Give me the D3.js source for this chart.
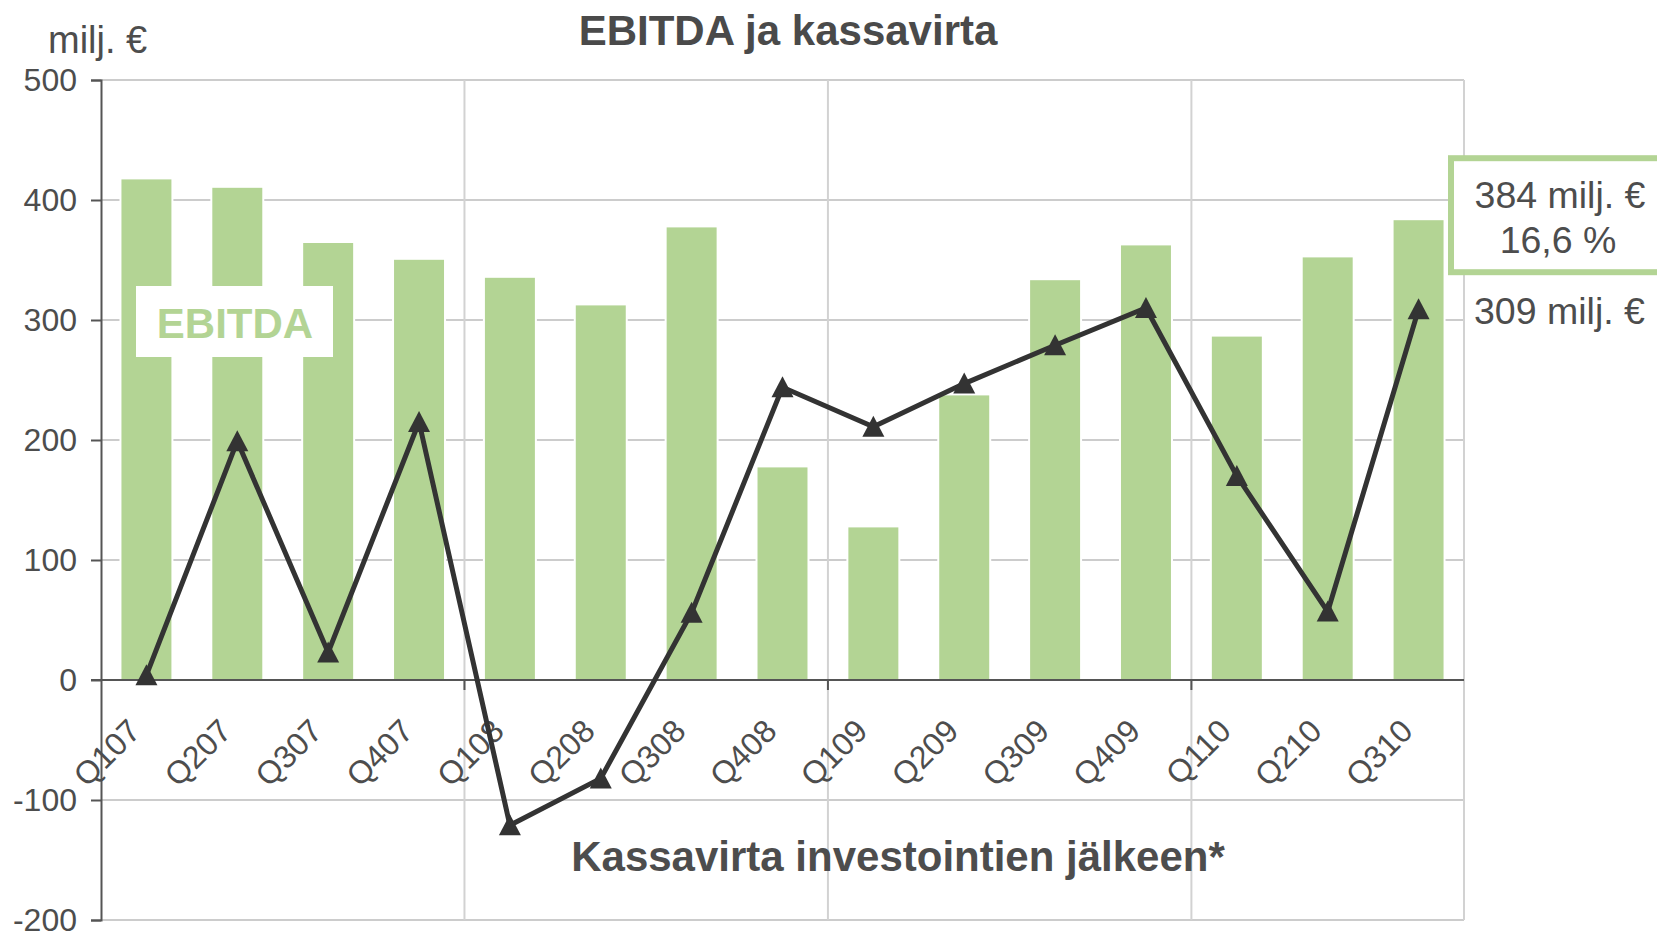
<!DOCTYPE html>
<html>
<head>
<meta charset="utf-8">
<script src="https://cdn.jsdelivr.net/npm/d3@7"></script>
<style>
  body { margin: 0; background: #fff; }
  text { font-family: "Liberation Sans", Arial, sans-serif; }
</style>
</head>
<body>
<div class="canvas"></div>
<script>
// Data
const quarters = ['Q107', 'Q207', 'Q307', 'Q407', 'Q108', 'Q208', 'Q308', 'Q408',
                  'Q109', 'Q209', 'Q309', 'Q409', 'Q110', 'Q210', 'Q310'];
const ebitda = [418, 411, 365, 351, 336, 313, 378, 178, 128, 238, 334, 363, 287, 353, 384];
const cashFlow = [4, 199, 23, 215, -121, -82, 56, 244, 211, 247, 279, 310, 170, 57, 309];
const yTicks = [-200, -100, 0, 100, 200, 300, 400, 500];
const yearStarts = ['Q108', 'Q109', 'Q110'];
const lastMargin = '16,6 %';

// Variables
const width = 1657, height = 933;
const margin = { top: 80, right: 193, bottom: 13, left: 101 };
const textColor = '#4d4d4d';
const barColor = '#b3d494';
const lineColor = '#333333';

const svg = d3.select('.canvas')
    .append('svg')
    .attr('width', width)
    .attr('height', height);

const x = d3.scaleBand()
    .domain(quarters)
    .range([margin.left, width - margin.right])
    .paddingInner(0.428)
    .paddingOuter(0.214);

const y = d3.scaleLinear()
    .domain([-200, 500])
    .range([height - margin.bottom, margin.top]);

const cx = d => x(d) + x.bandwidth() / 2;
const gap = (x.step() - x.bandwidth()) / 2;
const right = width - margin.right;

// Horizontal grid
svg.append('g')
    .selectAll('line')
    .data(yTicks)
    .join('line')
    .attr('x1', margin.left)
    .attr('x2', right)
    .attr('y1', d => y(d))
    .attr('y2', d => y(d))
    .attr('stroke', '#cccccc')
    .attr('stroke-width', 2);

// Vertical grid at year boundaries + right border
svg.append('g')
    .selectAll('line')
    .data(yearStarts.map(q => x(q) - gap).concat([right]))
    .join('line')
    .attr('x1', d => d)
    .attr('x2', d => d)
    .attr('y1', y(500))
    .attr('y2', y(-200))
    .attr('stroke', '#d2d2d2')
    .attr('stroke-width', 2);

// Bars
svg.append('g')
    .selectAll('rect')
    .data(quarters)
    .join('rect')
    .attr('x', d => x(d))
    .attr('width', x.bandwidth())
    .attr('y', (d, i) => y(ebitda[i]))
    .attr('height', (d, i) => y(0) - y(ebitda[i]))
    .attr('fill', barColor)
    .attr('stroke', '#fff')
    .attr('stroke-width', 2);

// Zero line and x ticks
svg.append('line')
    .attr('x1', margin.left - 10)
    .attr('x2', right)
    .attr('y1', y(0))
    .attr('y2', y(0))
    .attr('stroke', '#555')
    .attr('stroke-width', 2);

svg.append('g')
    .selectAll('line')
    .data(yearStarts.map(q => x(q) - gap))
    .join('line')
    .attr('x1', d => d)
    .attr('x2', d => d)
    .attr('y1', y(0))
    .attr('y2', y(0) + 10)
    .attr('stroke', '#555')
    .attr('stroke-width', 2);

// Y axis
const yAxis = svg.append('g')
    .attr('transform', `translate(${margin.left},0)`)
    .call(d3.axisLeft(y).tickValues(yTicks).tickSize(10).tickPadding(14)
        .tickFormat(d => String(d)));
yAxis.select('.domain').attr('stroke', '#555').attr('stroke-width', 2);
yAxis.selectAll('.tick line').attr('stroke', '#555').attr('stroke-width', 2);
yAxis.selectAll('.tick text')
    .attr('fill', textColor)
    .style('font-size', '32px');

// X labels
svg.append('g')
    .selectAll('text')
    .data(quarters)
    .join('text')
    .attr('transform', d => `translate(${cx(d) - 4},${y(0) + 53}) rotate(-45)`)
    .attr('text-anchor', 'end')
    .attr('fill', textColor)
    .style('font-size', '32px')
    .text(d => d);

// Cash flow line
const line = d3.line()
    .x(d => cx(d.q))
    .y(d => y(d.v));
const cashData = quarters.map((q, i) => ({ q: q, v: cashFlow[i] }));

svg.append('path')
    .datum(cashData)
    .attr('d', line)
    .attr('fill', 'none')
    .attr('stroke', lineColor)
    .attr('stroke-width', 5)
    .attr('stroke-linejoin', 'miter');

svg.append('g')
    .selectAll('path')
    .data(cashData)
    .join('path')
    .attr('transform', d => `translate(${cx(d.q)},${y(d.v)})`)
    .attr('d', 'M0,-11L11,10L-11,10Z')
    .attr('fill', lineColor);

// Labels
svg.append('text')
    .attr('x', 788)
    .attr('y', 45)
    .attr('text-anchor', 'middle')
    .attr('fill', '#4a4a4a')
    .style('font-size', '42px')
    .style('font-weight', 'bold')
    .text('EBITDA ja kassavirta');

svg.append('text')
    .attr('x', 48)
    .attr('y', 53)
    .attr('fill', textColor)
    .style('font-size', '38px')
    .text('milj. €');

svg.append('rect')
    .attr('x', 136)
    .attr('y', 286)
    .attr('width', 197)
    .attr('height', 71)
    .attr('fill', '#fff');
svg.append('text')
    .attr('x', 235)
    .attr('y', 338)
    .attr('text-anchor', 'middle')
    .attr('fill', barColor)
    .style('font-size', '42px')
    .style('font-weight', 'bold')
    .text('EBITDA');

svg.append('text')
    .attr('x', 898)
    .attr('y', 871)
    .attr('text-anchor', 'middle')
    .attr('fill', textColor)
    .style('font-size', '42px')
    .style('font-weight', 'bold')
    .text('Kassavirta investointien jälkeen*');

// Last quarter annotations
const lastE = ebitda[ebitda.length - 1];
const lastC = cashFlow[cashFlow.length - 1];
svg.append('rect')
    .attr('x', 1451)
    .attr('y', y(lastE) - 61)
    .attr('width', 240)
    .attr('height', 114)
    .attr('fill', '#fff')
    .attr('stroke', barColor)
    .attr('stroke-width', 6);
svg.append('text')
    .attr('x', 1560)
    .attr('y', y(lastE) - 11)
    .attr('text-anchor', 'middle')
    .attr('fill', textColor)
    .style('font-size', '37.5px')
    .text(lastE + ' milj. €');
svg.append('text')
    .attr('x', 1558)
    .attr('y', y(lastE) + 34)
    .attr('text-anchor', 'middle')
    .attr('fill', textColor)
    .style('font-size', '37.5px')
    .text(lastMargin);
svg.append('text')
    .attr('x', 1474)
    .attr('y', y(lastC) + 15)
    .attr('fill', textColor)
    .style('font-size', '37.5px')
    .text(lastC + ' milj. €');
</script>
</body>
</html>
